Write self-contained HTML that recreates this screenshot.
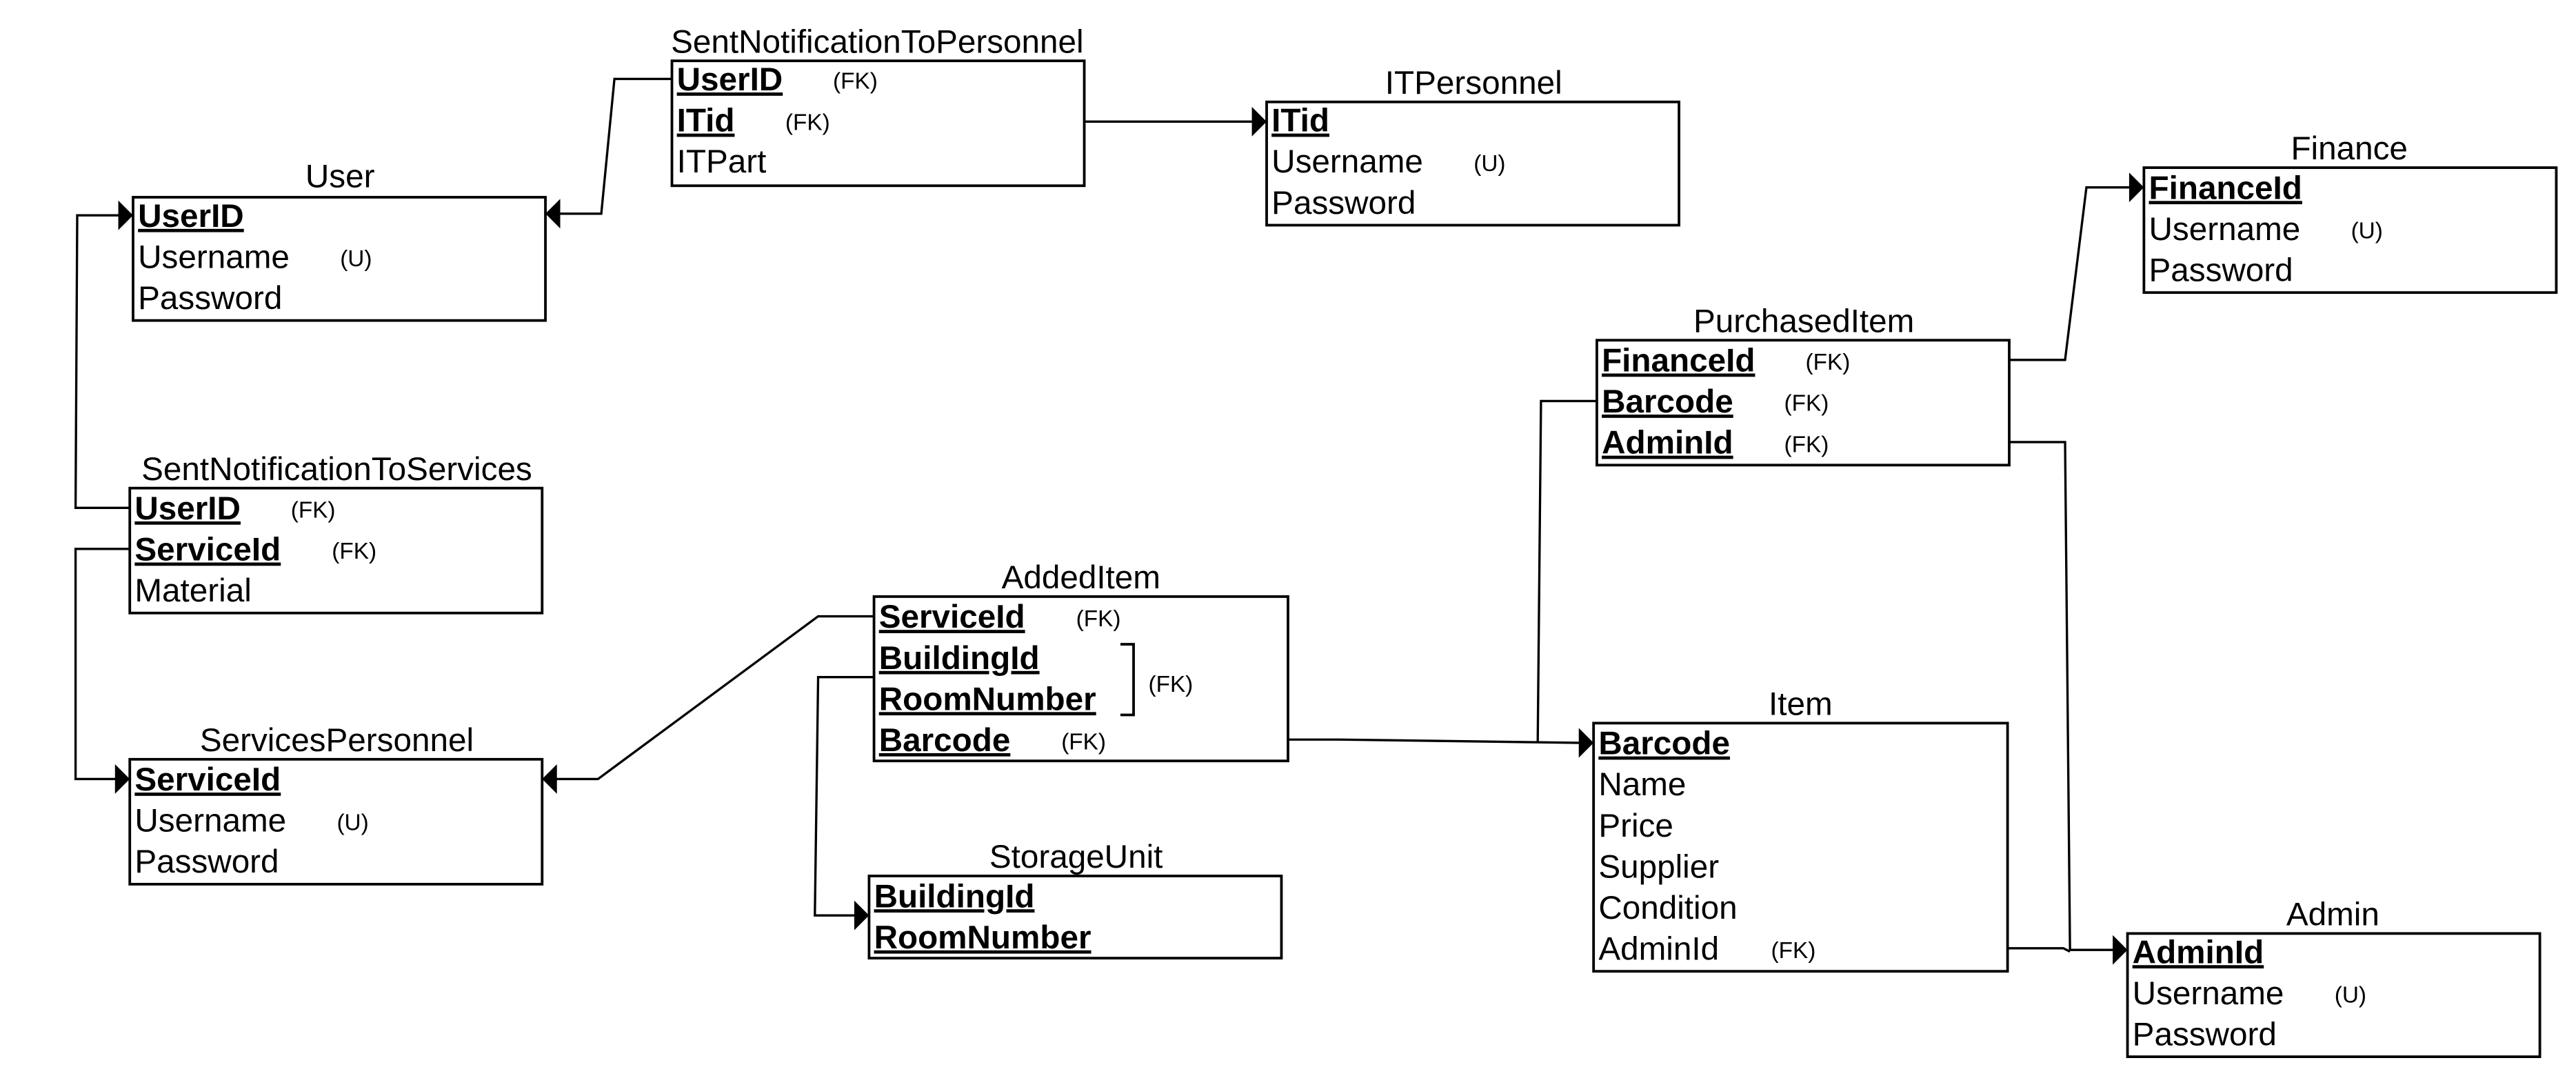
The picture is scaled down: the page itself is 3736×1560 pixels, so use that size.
<!DOCTYPE html>
<html><head><meta charset="utf-8"><style>
html,body{margin:0;padding:0;background:#fff;}
svg{display:block;}
text{font-family:"Liberation Sans",Arial,sans-serif;fill:#000;}
.t{font-size:20px;text-anchor:middle;}
.r{font-size:20px;}
.k{font-size:20px;font-weight:bold;text-decoration:underline;}
.s{font-size:14px;}
.b{fill:#fff;stroke:#000;stroke-width:1.6;}
.c{fill:none;stroke:#000;stroke-width:1.4;}
</style></head><body>
<svg width="3736" height="1560" viewBox="0 0 1568 654.7" xmlns="http://www.w3.org/2000/svg">
<rect width="1568" height="654.7" fill="#fff"/>
<polyline class="c" points="409,48 374,48 366,130 340,130"/>
<polyline class="c" points="660,74 763,74"/>
<polyline class="c" points="79,309 46,309 47,131 73,131"/>
<polyline class="c" points="79,334 46,334 46,474 71,474"/>
<polyline class="c" points="532,375 498,375 364,474 338,474"/>
<polyline class="c" points="532,412 498,412 496,557 521,557"/>
<polyline class="c" points="784,450 815,450 962,452"/>
<polyline class="c" points="972,244 938,244 936,452"/>
<polyline class="c" points="1223,219 1257,219 1270,114 1297,114"/>
<polyline class="c" points="1223,269 1257,269 1260,578 1287,578"/>
<polyline class="c" points="1222,577 1256,577 1260,579"/>
<polygon points="332,130 341,121 341,139"/>
<polygon points="771,74 762,65 762,83"/>
<polygon points="81,131 72,122 72,140"/>
<polygon points="79,474 70,465 70,483"/>
<polygon points="330,474 339,465 339,483"/>
<polygon points="529,557 520,548 520,566"/>
<polygon points="970,452 961,443 961,461"/>
<polygon points="1305,114 1296,105 1296,123"/>
<polygon points="1295,578 1286,569 1286,587"/>

<text class="t" x="207" y="114">User</text>
<rect class="b" x="81" y="120" width="251" height="75"/>
<text class="k" x="84" y="138">UserID</text>
<text class="r" x="84" y="163">Username</text><text class="s" x="207" y="162">(U)</text>
<text class="r" x="84" y="188">Password</text>

<text class="t" x="534" y="32">SentNotificationToPersonnel</text>
<rect class="b" x="409" y="37" width="251" height="76"/>
<text class="k" x="412" y="55">UserID</text><text class="s" x="507" y="54">(FK)</text>
<text class="k" x="412" y="80">ITid</text><text class="s" x="478" y="79">(FK)</text>
<text class="r" x="412" y="105">ITPart</text>

<text class="t" x="897" y="57">ITPersonnel</text>
<rect class="b" x="771" y="62" width="251" height="75"/>
<text class="k" x="774" y="80">ITid</text>
<text class="r" x="774" y="105">Username</text><text class="s" x="897" y="104">(U)</text>
<text class="r" x="774" y="130">Password</text>

<text class="t" x="1430" y="97">Finance</text>
<rect class="b" x="1305" y="102" width="251" height="76"/>
<text class="k" x="1308" y="121">FinanceId</text>
<text class="r" x="1308" y="146">Username</text><text class="s" x="1431" y="145">(U)</text>
<text class="r" x="1308" y="171">Password</text>

<text class="t" x="1098" y="202">PurchasedItem</text>
<rect class="b" x="972" y="207" width="251" height="76"/>
<text class="k" x="975" y="226">FinanceId</text><text class="s" x="1099" y="225">(FK)</text>
<text class="k" x="975" y="251">Barcode</text><text class="s" x="1086" y="250">(FK)</text>
<text class="k" x="975" y="276">AdminId</text><text class="s" x="1086" y="275">(FK)</text>

<text class="t" x="205" y="292">SentNotificationToServices</text>
<rect class="b" x="79" y="297" width="251" height="76"/>
<text class="k" x="82" y="316">UserID</text><text class="s" x="177" y="315">(FK)</text>
<text class="k" x="82" y="341">ServiceId</text><text class="s" x="202" y="340">(FK)</text>
<text class="r" x="82" y="366">Material</text>

<text class="t" x="658" y="358">AddedItem</text>
<rect class="b" x="532" y="363" width="252" height="100"/>
<text class="k" x="535" y="382">ServiceId</text><text class="s" x="655" y="381">(FK)</text>
<text class="k" x="535" y="407">BuildingId</text>
<text class="k" x="535" y="432">RoomNumber</text>
<text class="k" x="535" y="457">Barcode</text><text class="s" x="646" y="456">(FK)</text>
<polyline class="c" points="682,392 690,392 690,435 682,435" style="stroke-width:1.6"/>
<text class="s" x="699" y="421">(FK)</text>

<text class="t" x="205" y="457">ServicesPersonnel</text>
<rect class="b" x="79" y="462" width="251" height="76"/>
<text class="k" x="82" y="481">ServiceId</text>
<text class="r" x="82" y="506">Username</text><text class="s" x="205" y="505">(U)</text>
<text class="r" x="82" y="531">Password</text>

<text class="t" x="655" y="528">StorageUnit</text>
<rect class="b" x="529" y="533" width="251" height="50"/>
<text class="k" x="532" y="552">BuildingId</text>
<text class="k" x="532" y="577">RoomNumber</text>

<text class="t" x="1096" y="435">Item</text>
<rect class="b" x="970" y="440" width="252" height="151"/>
<text class="k" x="973" y="459">Barcode</text>
<text class="r" x="973" y="484">Name</text>
<text class="r" x="973" y="509">Price</text>
<text class="r" x="973" y="534">Supplier</text>
<text class="r" x="973" y="559">Condition</text>
<text class="r" x="973" y="584">AdminId</text><text class="s" x="1078" y="583">(FK)</text>

<text class="t" x="1420" y="563">Admin</text>
<rect class="b" x="1295" y="568" width="251" height="75"/>
<text class="k" x="1298" y="586">AdminId</text>
<text class="r" x="1298" y="611">Username</text><text class="s" x="1421" y="610">(U)</text>
<text class="r" x="1298" y="636">Password</text>
</svg>
</body></html>
